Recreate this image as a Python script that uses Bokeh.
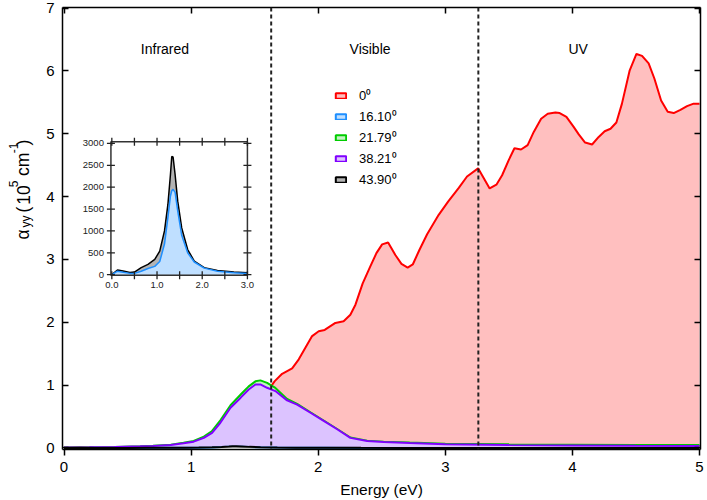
import math
from bokeh.plotting import figure
from bokeh.layouts import row
from bokeh.models import (Range1d, LinearAxis, Span, Label, Legend, LegendItem,
                          CustomJSTickFormatter, FixedTicker)
from bokeh.embed import file_html
from bokeh.resources import INLINE
from bokeh.core.properties import value

FONT = "Liberation Sans"

# ---------------- data ----------------
x_ticks = [0, 1, 2, 3, 4, 5]
y_ticks = [0, 1, 2, 3, 4, 5, 6, 7]
region_edges = [1.63, 3.26]
region_names = ["Infrared", "Visible", "UV"]
region_centers = [0.794, 2.408, 4.045]

series_labels = ["0⁰", "16.10⁰", "21.79⁰", "38.21⁰", "43.90⁰"]
line_colors = ["#ff0000", "#1e8fff", "#00cc00", "#8000ff", "#000000"]
fill_colors = ["#ffbfbf", "#bfdfff", "#c4f2c4", "#dcc3ff", "#b3b3b3"]

# y-axis title pieces: text, kind (main / sub / sup)
ylabel_parts = [("α", "main"), ("yy", "sub"), ("(", "main"), ("10", "main"),
                ("5", "sup"), ("cm", "main"), ("-1", "sup"), (")", "main")]

# 0 deg (10^5 cm^-1)
red_E = [0.0, 0.3, 0.6, 0.8, 1.0, 1.1, 1.2, 1.3, 1.4, 1.5, 1.6,
         1.658, 1.716, 1.795, 1.847, 1.952, 2.004, 2.051, 2.135, 2.20, 2.253,
         2.293, 2.35, 2.41, 2.458, 2.503, 2.55, 2.607, 2.655, 2.704, 2.744,
         2.796, 2.857, 2.948, 3.022, 3.106, 3.171, 3.258, 3.349, 3.402, 3.447,
         3.499, 3.544, 3.596, 3.648, 3.696, 3.754, 3.806, 3.866, 3.90, 3.953,
         4.01, 4.05, 4.10, 4.155, 4.207, 4.254, 4.30, 4.346, 4.39, 4.451,
         4.504, 4.548, 4.60, 4.645, 4.698, 4.75, 4.797, 4.85, 4.902, 4.954, 5.0]
red_A = [0.004, 0.006, 0.012, 0.02, 0.06, 0.13, 0.33, 0.58, 0.76, 0.88, 0.90,
         1.063, 1.18, 1.265, 1.41, 1.78, 1.857, 1.878, 1.99, 2.016, 2.12,
         2.28, 2.62, 2.89, 3.10, 3.24, 3.27, 3.07, 2.93, 2.87, 2.92,
         3.15, 3.40, 3.71, 3.92, 4.14, 4.32, 4.45, 4.13, 4.19, 4.34,
         4.58, 4.77, 4.75, 4.82, 5.03, 5.24, 5.32, 5.34, 5.33, 5.27,
         5.11, 4.99, 4.86, 4.83, 4.95, 5.04, 5.08, 5.18, 5.48, 6.01,
         6.27, 6.24, 6.12, 5.88, 5.53, 5.35, 5.33, 5.38, 5.44, 5.48, 5.48]

# 21.79 deg and 38.21 deg (10^5 cm^-1)
mid_E = [0.0, 0.2, 0.4, 0.6, 0.7, 0.84, 0.94, 1.02, 1.10, 1.165, 1.23, 1.31,
         1.39, 1.453, 1.506, 1.545, 1.598, 1.663, 1.755, 1.834, 1.939, 2.043,
         2.149, 2.253, 2.385, 2.515, 2.72, 3.0, 3.5, 4.0, 4.5, 5.0]
green_A = [0.008, 0.01, 0.015, 0.027, 0.035, 0.052, 0.082, 0.11, 0.18, 0.27,
           0.44, 0.68, 0.85, 0.98, 1.06, 1.075, 1.035, 0.955, 0.78, 0.70,
           0.565, 0.435, 0.30, 0.165, 0.115, 0.10, 0.085, 0.068, 0.058, 0.052,
           0.048, 0.045]
purple_A = [0.008, 0.01, 0.014, 0.025, 0.032, 0.048, 0.075, 0.10, 0.16, 0.24,
            0.40, 0.64, 0.80, 0.93, 1.01, 1.01, 0.957, 0.905, 0.757, 0.69,
            0.56, 0.43, 0.297, 0.16, 0.11, 0.095, 0.08, 0.06, 0.045, 0.04,
            0.035, 0.032]

# 16.10 deg and 43.90 deg (cm^-1), shown in the inset
low_E = [0.0, 0.125, 0.25, 0.40, 0.50, 0.65, 0.80, 0.95, 1.06, 1.165, 1.24,
         1.297, 1.326, 1.355, 1.40, 1.458, 1.546, 1.678, 1.824, 2.044, 2.337,
         2.70, 3.0, 3.5, 4.0, 4.5, 5.0]
black_cm = [0, 105, 82, 52, 60, 160, 235, 350, 540, 1000, 1600,
            2290, 2700, 2690, 2290, 1680, 1070, 575, 310, 160, 98,
            60, 45, 40, 35, 30, 28]
blue_cm = [0, 80, 55, 30, 30, 80, 140, 190, 300, 700, 1300,
           1800, 1920, 1950, 1880, 1460, 900, 500, 290, 150, 80,
           45, 25, 20, 18, 16, 15]

inset_y_ticks = [0, 500, 1000, 1500, 2000, 2500, 3000]
inset_x_ticks = [0.0, 0.5, 1.0, 1.5, 2.0, 2.5, 3.0]
inset_x_labels = [0.0, 1.0, 2.0, 3.0]

# ---------------- y-axis title strip (pixel coordinates) ----------------
LAB_W = 40
lab = figure(width=LAB_W, height=500, x_range=Range1d(0, LAB_W),
             y_range=Range1d(0, 500), output_backend="svg",
             toolbar_location=None, x_axis_location=None,
             y_axis_location=None, min_border=0)
lab.outline_line_color = None
lab.grid.visible = False
# start along the text (px from bottom) and baseline (px from left)
piece_start = [237.5, 251, 268, 277, 296.7, 309.5, 335, 344]
kind_base = {"main": 22.5, "sub": 25.5, "sup": 12.5}
kind_size = {"main": "17.5px", "sub": "12px", "sup": "12px"}
for (txt, kind), ys in zip(ylabel_parts, piece_start):
    lab.text(x=[kind_base[kind]], y=[ys], text=[txt], angle=math.pi / 2,
             text_align="left", text_baseline="alphabetic",
             text_font=value(FONT), text_font_size=kind_size[kind],
             text_color="black")

# ---------------- main figure ----------------
p = figure(width=707 - LAB_W, height=500, x_range=Range1d(-0.012, 5.008),
           y_range=Range1d(-0.025, 7.01), output_backend="svg",
           toolbar_location=None, min_border_left=62 - LAB_W,
           min_border_right=7, min_border_top=7, min_border_bottom=51)
p.outline_line_color = None
p.grid.visible = False

AX_W = 1.5
for ax in p.xaxis:
    ax.ticker = FixedTicker(ticks=x_ticks)
    ax.major_tick_in = 0
    ax.major_tick_out = 6
    ax.minor_tick_in = 0
    ax.minor_tick_out = 0
    ax.major_label_standoff = 6
    ax.axis_label = "Energy (eV)"
    ax.axis_label_standoff = 6
for ax in p.yaxis:
    ax.ticker = FixedTicker(ticks=y_ticks)
    ax.major_tick_in = 6
    ax.major_tick_out = 0
    ax.minor_tick_in = 0
    ax.minor_tick_out = 0
    ax.major_label_standoff = 8
for ax in list(p.xaxis) + list(p.yaxis):
    ax.axis_line_width = AX_W
    ax.axis_line_color = "black"
    ax.major_tick_line_width = AX_W
    ax.major_tick_line_color = "black"
    ax.major_label_text_font = FONT
    ax.major_label_text_font_size = "15px"
    ax.major_label_text_color = "black"
    ax.axis_label_text_font = FONT
    ax.axis_label_text_font_size = "15.5px"
    ax.axis_label_text_font_style = "normal"
    ax.axis_label_text_color = "black"

blank = CustomJSTickFormatter(code="return ''")
top_ax = LinearAxis(ticker=FixedTicker(ticks=x_ticks), formatter=blank,
                    major_tick_in=6, major_tick_out=0, minor_tick_in=0,
                    minor_tick_out=0, major_label_standoff=0,
                    axis_line_width=AX_W, major_tick_line_width=AX_W)
right_ax = LinearAxis(ticker=FixedTicker(ticks=y_ticks), formatter=blank,
                      major_tick_in=6, major_tick_out=0, minor_tick_in=0,
                      minor_tick_out=0, major_label_standoff=0,
                      axis_line_width=AX_W, major_tick_line_width=AX_W)
p.add_layout(top_ax, "above")
p.add_layout(right_ax, "right")

# ---------------- main curves ----------------
LW = 2
black_A = [v / 1e5 for v in black_cm]
blue_A = [v / 1e5 for v in blue_cm]

p.varea(x=red_E, y1=0, y2=red_A, fill_color=fill_colors[0])
p.line(red_E, red_A, line_color=line_colors[0], line_width=LW)
p.varea(x=mid_E, y1=0, y2=green_A, fill_color=fill_colors[2])
p.line(mid_E, green_A, line_color=line_colors[2], line_width=LW)
p.varea(x=mid_E, y1=0, y2=purple_A, fill_color=fill_colors[3])
p.line(mid_E, purple_A, line_color=line_colors[3], line_width=LW)
p.varea(x=low_E, y1=0, y2=blue_A, fill_color=fill_colors[1])
p.line(low_E, blue_A, line_color=line_colors[1], line_width=LW)
p.varea(x=low_E, y1=0, y2=black_A, fill_color=fill_colors[4])
p.line(low_E, black_A, line_color=line_colors[4], line_width=LW)

for v in region_edges:
    p.add_layout(Span(location=v, dimension="height", line_color="#222222",
                      line_width=2, line_dash="4 3"))

for name, cx in zip(region_names, region_centers):
    p.add_layout(Label(x=cx, y=6.35, text=name, text_align="center",
                       text_baseline="middle", text_font=FONT,
                       text_font_size="14px", text_color="black"))

# ---------------- legend ----------------
nan = float("nan")
items = []
for name, lc, fc in zip(series_labels, line_colors, fill_colors):
    r = p.quad(left=[nan], right=[nan], top=[nan], bottom=[nan],
               fill_color=fc, line_color=lc, line_width=2)
    items.append(LegendItem(label=name, renderers=[r]))
legend = Legend(items=items, location=(272, 260), glyph_width=13,
                glyph_height=7, label_standoff=12, label_height=20,
                spacing=1, padding=0, margin=0, border_line_color=None,
                background_fill_alpha=0, label_text_font=FONT,
                label_text_font_size="13px", label_text_color="black")
p.add_layout(legend)

# ---------------- inset ----------------
inset_x = Range1d(-0.02, 3.0)
inset_y = Range1d(-12, 3040)
sub = p.subplot(x_source=inset_x, y_source=inset_y,
                x_target=Range1d(0.369, 1.443), y_target=Range1d(2.749, 4.874))

sub.quad(left=[inset_x.start], right=[inset_x.end], bottom=[inset_y.start],
         top=[inset_y.end], fill_color="white", line_color=None)
ins_E = [e for e in low_E if e <= inset_x.end]
n = len(ins_E)
sub.varea(x=ins_E, y1=0, y2=black_cm[:n], fill_color=fill_colors[4])
sub.line(ins_E, black_cm[:n], line_color="black", line_width=1.5)
sub.varea(x=ins_E, y1=0, y2=blue_cm[:n], fill_color=fill_colors[1])
sub.line(ins_E, blue_cm[:n], line_color=line_colors[1], line_width=1.5)
sub.quad(left=[inset_x.start], right=[inset_x.end], bottom=[inset_y.start],
         top=[inset_y.end], fill_color=None, line_color="#333333",
         line_width=1.5)

ny = len(inset_y_ticks)
nx = len(inset_x_ticks)
sub.scatter(x=[inset_x.start] * ny + [inset_x.end] * ny,
            y=inset_y_ticks + inset_y_ticks, marker="dash", size=8,
            line_color="#222222", line_width=1.3)
sub.scatter(x=inset_x_ticks + inset_x_ticks,
            y=[inset_y.start] * nx + [inset_y.end] * nx, marker="dash",
            angle=math.pi / 2, size=8, line_color="#222222", line_width=1.3)
sub.text(x=[inset_x.start] * ny, y=inset_y_ticks,
         text=[str(t) for t in inset_y_ticks], x_offset=-7,
         text_align="right", text_baseline="middle", text_font=value(FONT),
         text_font_size="9.5px", text_color="#222222")
sub.text(x=inset_x_labels, y=[inset_y.start] * len(inset_x_labels),
         text=[f"{t:.1f}" for t in inset_x_labels], y_offset=7,
         text_align="center", text_baseline="top", text_font=value(FONT),
         text_font_size="9.5px", text_color="#222222")

layout = row(lab, p, spacing=0)
open("out.html", "w").write(file_html(layout, INLINE))
